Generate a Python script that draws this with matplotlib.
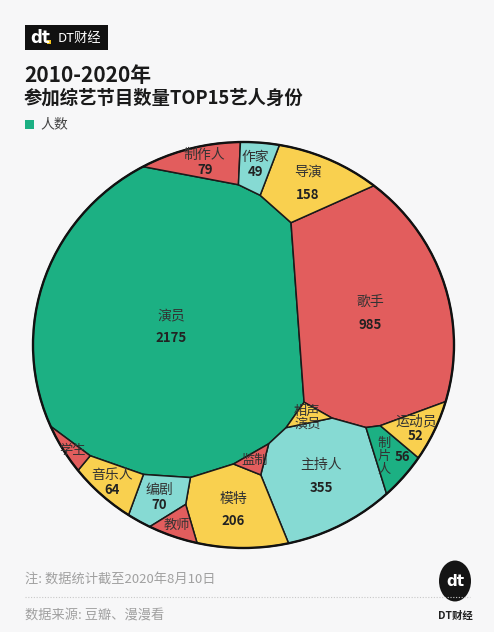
import numpy as np
import matplotlib
matplotlib.use('Agg')
import matplotlib.pyplot as plt
from matplotlib.patches import Polygon, Ellipse, Rectangle, Circle

plt.rcParams['font.family'] = ['Noto Sans CJK SC', 'DejaVu Sans']

# data
names = ['演员', '歌手', '主持人', '模特', '导演', '制作人', '编剧', '音乐人',
         '制片人', '运动员', '作家', '学生', '相声演员', '监制', '教师']
values = [2175, 985, 355, 206, 158, 79, 70, 64, 56, 52, 49, 17, 16, 15, 28]
show_value = [True] * 11 + [False] * 4

# styles
GREEN, RED, CYAN, YELLOW = '#1cb083', '#e25d5d', '#86dad3', '#f9d04f'
cell_colors = [GREEN, RED, CYAN, YELLOW, YELLOW, RED, CYAN, YELLOW,
               GREEN, YELLOW, CYAN, RED, YELLOW, RED, RED]
# starting site of each cell inside the unit circle (layout only)
anchors = [(-0.37, 0.12), (0.60, 0.17), (0.36, -0.64), (-0.06, -0.80),
           (0.29, 0.79), (-0.25, 0.89), (-0.39, -0.75), (-0.60, -0.71),
           (0.67, -0.58), (0.81, -0.43), (0.02, 0.87), (-0.78, -0.57),
           (0.27, -0.36), (0.06, -0.58), (-0.35, -0.90)]


def clip(poly, a, b):
    # keep the part of a convex polygon with a.p <= b
    if len(poly) == 0:
        return poly
    f = poly @ a - b
    inside = f <= 0
    if inside.all():
        return poly
    if not inside.any():
        return poly[:0]
    n = len(poly)
    nxt = np.roll(inside, -1)
    k_out = np.nonzero(inside & ~nxt)[0][0]
    k_in = np.nonzero(~inside & nxt)[0][0]

    def cross(k):
        j = (k + 1) % n
        t = f[k] / (f[k] - f[j])
        return poly[k] + t * (poly[j] - poly[k])
    start = (k_in + 1) % n
    count = (k_out - start) % n + 1
    keep = poly[(start + np.arange(count)) % n]
    return np.vstack([cross(k_in), keep, cross(k_out)])


def area_centroid(p):
    if len(p) < 3:
        return 0.0, np.zeros(2)
    x, y = p[:, 0], p[:, 1]
    x2, y2 = np.roll(x, -1), np.roll(y, -1)
    c = x * y2 - x2 * y
    a = c.sum() / 2
    if abs(a) < 1e-12:
        return 0.0, p.mean(axis=0)
    cx = ((x + x2) * c).sum() / (6 * a)
    cy = ((y + y2) * c).sum() / (6 * a)
    return abs(a), np.array([cx, cy])


theta = np.linspace(0, 2 * np.pi, 240, endpoint=False)
disk = np.column_stack([np.cos(theta), np.sin(theta)])


def power_cells(s, w):
    cells = []
    for i in range(len(s)):
        poly = disk.copy()
        order = np.argsort(((s - s[i]) ** 2).sum(1))
        for j in order:
            if j == i:
                continue
            a = 2 * (s[j] - s[i])
            b = (s[j] @ s[j]) - (s[i] @ s[i]) - w[j] + w[i]
            poly = clip(poly, a, b)
        cells.append(poly)
    return cells


sites = np.array(anchors, dtype=float)
vals = np.array(values, dtype=float)
target = vals / vals.sum() * np.pi
w = target / np.pi * 0.3

for it in range(400):
    cells = power_cells(sites, w)
    ac = [area_centroid(c) for c in cells]
    areas = np.array([a for a, _ in ac])
    cents = np.array([c if a > 0 else sites[k] for k, (a, c) in enumerate(ac)])
    sites = sites + 0.3 * (cents - sites)
    ratio = np.where(areas > 0, target / np.maximum(areas, 1e-9), 2.0)
    w = np.maximum(w * ratio ** 0.8, 1e-6)
    # keep every site outside the other cells
    for i in range(len(sites)):
        for j in range(len(sites)):
            if i == j:
                continue
            d2 = ((sites[i] - sites[j]) ** 2).sum()
            over = w[i] - w[j] - d2
            if over > 0:
                w[i] -= over + 1e-6

cells = power_cells(sites, w)

# figure
W, H = 494, 632
fig = plt.figure(figsize=(W / 100, H / 100), dpi=100)
fig.patch.set_facecolor('#f7f7f8')

cx, cy, rx, ry = 243.5, 345, 210.5, 203
ax = fig.add_axes([(cx - rx) / W, 1 - (cy + ry) / H, 2 * rx / W, 2 * ry / H])
ax.set_xlim(-1, 1)
ax.set_ylim(-1, 1)
ax.axis('off')

for k, poly in enumerate(cells):
    if len(poly) < 3:
        continue
    ax.add_patch(Polygon(poly, closed=True, facecolor=cell_colors[k],
                         edgecolor='#1a1a1a', linewidth=1.1))
ax.add_patch(Ellipse((0, 0), 2, 2, facecolor='none', edgecolor='#111111',
                     linewidth=1.7, clip_on=False))

name_c, num_c = '#333333', '#222222'
for k, poly in enumerate(cells):
    a, c = area_centroid(poly)
    x, y = c
    if names[k] == '制片人':
        ax.text(x - 0.03, y, '制\n片\n人', ha='center', va='center', fontsize=9.5,
                color=name_c, linespacing=1.0)
        ax.text(x + 0.055, y, str(values[k]), ha='center', va='center',
                fontsize=9.5, fontweight='bold', color=num_c)
    elif names[k] == '相声演员':
        ax.text(x, y - 0.01, '相声\n演员', ha='center', va='center', fontsize=9.5,
                color=name_c, linespacing=1.0)
    elif not show_value[k]:
        ax.text(x, y, names[k], ha='center', va='center', fontsize=9.5,
                color=name_c)
    else:
        gap = 11.5 if values[k] > 150 else 7.5
        ax.annotate(names[k], (x, y), xytext=(0, gap * 0.72), textcoords='offset points',
                    ha='center', va='center', fontsize=10, color=name_c)
        ax.annotate(str(values[k]), (x, y), xytext=(0, -gap * 0.72), textcoords='offset points',
                    ha='center', va='center', fontsize=9.5, fontweight='bold', color=num_c)


def fy(py):
    return 1 - py / H


# header logo
fig.patches.append(Rectangle((25 / W, fy(50)), 83 / W, 25 / H, transform=fig.transFigure,
                             facecolor='#111111', edgecolor='none'))
fig.text(30 / W, fy(38), 'dt', color='white', fontsize=12, fontweight='heavy',
         va='center', ha='left', family='DejaVu Sans')
fig.patches.append(Rectangle((47 / W, fy(44)), 4 / W, 4 / H, transform=fig.transFigure,
                             facecolor='#f5c518', edgecolor='none'))
fig.text(58 / W, fy(38), 'DT财经', color='white', fontsize=9.5, va='center', ha='left')

fig.text(24 / W, fy(75), '2010-2020年', fontsize=15, color='#1a1a1a',
         va='center', ha='left', fontweight='bold')
fig.text(24 / W, fy(98), '参加综艺节目数量TOP15艺人身份', fontsize=13.2, color='#1a1a1a',
         va='center', ha='left', fontweight='bold')

fig.patches.append(Rectangle((25 / W, fy(129)), 9 / W, 9 / H, transform=fig.transFigure,
                             facecolor=GREEN, edgecolor='none'))
fig.text(40 / W, fy(124), '人数', fontsize=10, color='#444444', va='center', ha='left')

# footer
fig.text(25 / W, fy(579), '注: 数据统计截至2020年8月10日', fontsize=9.5, color='#a0a0a0',
         va='center', ha='left')
fig.add_artist(plt.Line2D([25 / W, 470 / W], [fy(597), fy(597)], transform=fig.transFigure,
                          color='#c8c8c8', linestyle=(0, (1, 1.5)), linewidth=0.8))
fig.text(25 / W, fy(615), '数据来源: 豆瓣、漫漫看', fontsize=9.5, color='#a0a0a0',
         va='center', ha='left')

fig.patches.append(Circle((455 / W, fy(581)), 16 / W, transform=fig.transFigure,
                          facecolor='#151515', edgecolor='none'))
fig.text(455 / W, fy(582), 'dt', color='white', fontsize=11, fontweight='heavy',
         va='center', ha='center', family='DejaVu Sans')
fig.text(455 / W, fy(616), 'DT财经', color='#222222', fontsize=7.5,
         va='center', ha='center', fontweight='bold')

fig.savefig('out.png', dpi=100, facecolor=fig.get_facecolor())
